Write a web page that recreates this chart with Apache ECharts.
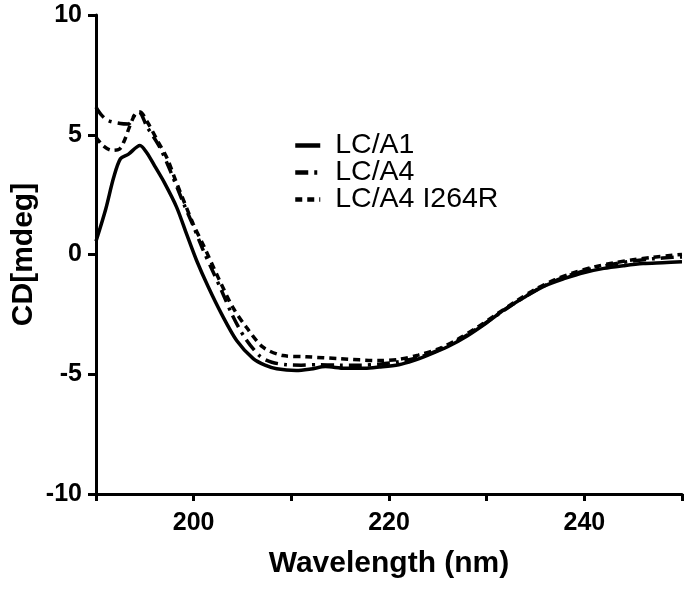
<!DOCTYPE html>
<html>
<head>
<meta charset="utf-8">
<script src="https://cdn.jsdelivr.net/npm/echarts@6/dist/echarts.min.js"></script>
<style>html,body{margin:0;padding:0;background:#fff}#c{width:692px;height:589px}</style>
</head>
<body>
<div id="c"></div>
<script>
var seriesNames = ['LC/A1', 'LC/A4', 'LC/A4 I264R'];
var xTickLabels = [200, 220, 240];

var wlA1 = [190,191,191.8,192.5,193.3,194.5,195.2,196,197,198.25,199.27,200.3,201.5,202.85,204.4,206.1,207.3,208.5,210.5,212,213.5,215.5,217.5,219,221,222.5,224,226,228,230,232,234,236,238,240,242,244,246,248,250];
var cdA1 = [0.55,1.9,3.2,4.0,4.18,4.55,4.25,3.7,3.0,1.98,0.86,-0.25,-1.36,-2.48,-3.59,-4.35,-4.62,-4.77,-4.84,-4.78,-4.68,-4.75,-4.75,-4.7,-4.6,-4.43,-4.2,-3.85,-3.4,-2.85,-2.25,-1.75,-1.3,-1.0,-0.75,-0.58,-0.47,-0.38,-0.34,-0.3];

var wlA4 = [190,190.5,191.2,192.5,193.3,194,194.4,195.2,196.5,197.6,198.9,199.9,200.9,201.9,202.85,203.9,205.2,206.8,208,209.5,211,213,215,217,219,221,223,225,227,229,231,233,235,237,239,241,243,245,247,249,250];
var cdA4 = [6.15,5.85,5.6,5.47,5.45,5.85,5.95,5.35,4.5,3.5,2.2,1.25,0.25,-0.65,-1.5,-2.48,-3.45,-4.25,-4.5,-4.6,-4.62,-4.6,-4.62,-4.62,-4.58,-4.48,-4.3,-4.0,-3.6,-3.1,-2.55,-2.0,-1.5,-1.1,-0.8,-0.57,-0.4,-0.27,-0.18,-0.12,-0.1];

var wlR = [190,190.7,191.6,192.4,192.9,193.4,194,194.5,195.3,196.3,197.3,198.1,199.95,201.1,202.5,204,205.4,207.1,209.15,211.5,215,219,221,223,225,227,229,231,233,235,237,239,241,243,245,247,249,250];
var cdR = [4.9,4.55,4.35,4.4,4.75,5.3,5.85,5.95,5.5,4.75,4.0,3.15,1.28,0.3,-0.95,-2.2,-3.04,-3.87,-4.22,-4.27,-4.35,-4.43,-4.38,-4.2,-3.95,-3.55,-3.05,-2.5,-1.95,-1.45,-1.05,-0.75,-0.52,-0.35,-0.22,-0.12,-0.03,0.0];

function pairs(xs, ys) { return xs.map(function (x, i) { return [x, ys[i]]; }); }

var FONT = 'Liberation Sans, Arial, sans-serif';
var chart = echarts.init(document.getElementById('c'), null, {renderer: 'canvas'});
chart.setOption({
  animation: false,
  backgroundColor: '#fff',
  grid: {left: 96, top: 15, right: 10, bottom: 95, containLabel: false, outerBoundsMode: 'none'},
  legend: {
    orient: 'vertical', left: 293, top: 131, padding: 0, itemWidth: 25, itemHeight: 14, itemGap: -2,
    itemStyle: {opacity: 0},
    lineStyle: {width: 4.5},
    textStyle: {fontFamily: FONT, fontSize: 28.5, lineHeight: 26, color: '#000', padding: [0, 0, 0, 10]},
    data: seriesNames
  },
  xAxis: {
    type: 'value', min: 190, max: 250, interval: 10,
    name: 'Wavelength (nm)', nameLocation: 'middle', nameGap: 55,
    nameTextStyle: {fontFamily: FONT, fontSize: 30, fontWeight: 'bold', color: '#000'},
    axisLine: {show: true, onZero: false, lineStyle: {color: '#000', width: 3}},
    axisTick: {show: true, length: 7, lineStyle: {color: '#000', width: 3}},
    splitLine: {show: false},
    axisLabel: {fontFamily: FONT, fontSize: 25, fontWeight: 'bold', color: '#000', margin: 17,
      formatter: function (v) { return xTickLabels.indexOf(v) >= 0 ? String(v) : ''; }}
  },
  yAxis: {
    type: 'value', min: -10, max: 10, interval: 5,
    name: 'CD[mdeg]', nameLocation: 'middle', nameGap: 57, nameMoveOverlap: false,
    nameTextStyle: {fontFamily: FONT, fontSize: 30, fontWeight: 'bold', color: '#000'},
    axisLine: {show: true, onZero: false, lineStyle: {color: '#000', width: 3}},
    axisTick: {show: true, length: 8, lineStyle: {color: '#000', width: 3}},
    splitLine: {show: false},
    axisLabel: {fontFamily: FONT, fontSize: 25, fontWeight: 'bold', color: '#000', margin: 14}
  },
  series: [
    {name: seriesNames[0], type: 'line', smooth: 0.3, symbol: 'none', data: pairs(wlA1, cdA1),
     lineStyle: {color: '#000', width: 3.5, type: 'solid'}, itemStyle: {color: '#000'}, z: 3},
    {name: seriesNames[1], type: 'line', smooth: 0.3, symbol: 'none', data: pairs(wlA4, cdA4),
     lineStyle: {color: '#000', width: 3.5, type: [13, 6, 3, 6]}, itemStyle: {color: '#000'}, z: 2},
    {name: seriesNames[2], type: 'line', smooth: 0.3, symbol: 'none', data: pairs(wlR, cdR),
     lineStyle: {color: '#000', width: 3.5, type: [7, 5]}, itemStyle: {color: '#000'}, z: 1}
  ]
});
</script>
</body>
</html>
